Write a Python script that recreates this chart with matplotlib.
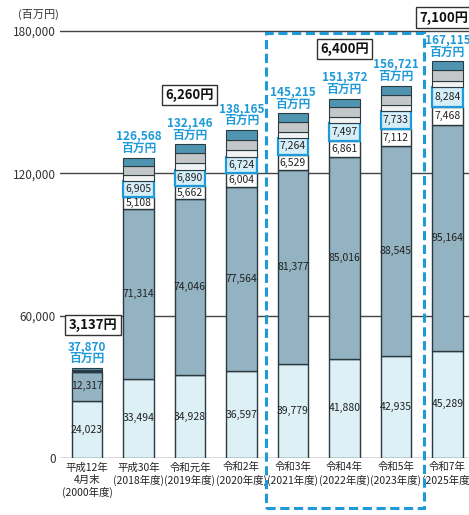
import matplotlib
matplotlib.use('Agg')
import matplotlib.pyplot as plt
from matplotlib.patches import Rectangle

plt.rcParams['font.family'] = ['Noto Sans CJK JP', 'DejaVu Sans']

# 年度ラベル
years = ['平成12年\n4月末\n(2000年度)', '平成30年\n(2018年度)', '令和元年\n(2019年度)',
         '令和2年\n(2020年度)', '令和3年\n(2021年度)', '令和4年\n(2022年度)',
         '令和5年\n(2023年度)', '令和7年\n(2025年度)']

# 各区分の金額（百万円）、下から順に
seg1 = [24023, 33494, 34928, 36597, 39779, 41880, 42935, 45289]
seg2 = [12317, 71314, 74046, 77564, 81377, 85016, 88545, 95164]
seg3 = [0, 5108, 5662, 6004, 6529, 6861, 7112, 7468]
seg4 = [0, 6905, 6890, 6724, 7264, 7497, 7733, 8284]
seg5 = [300, 2400, 2600, 2800, 2500, 2500, 2600, 2700]   # 読み取り推定
seg6 = [500, 3900, 4200, 4500, 4100, 4000, 4100, 4400]   # 読み取り推定
seg7 = [730, 3447, 3820, 3976, 3666, 3618, 3696, 3810]   # 読み取り推定
totals = [37870, 126568, 132146, 138165, 145215, 151372, 156721, 167115]

# 保険料（月額）
premiums = ['3,137円', '6,260円', '6,400円', '7,100円']
premium_pos = [(0.12, 56000), (2.0, 153000), (5.0, 172400), (6.93, 185500)]

fig = plt.figure(figsize=(4.69, 5.15), dpi=100)
ax = fig.add_axes([60 / 469, 57 / 515, 1 - 60 / 469, 1 - 57 / 515])

x = list(range(len(years)))
w = 0.59
edge = '#2b3a40'
blue = '#1e9ad8'

for yv in [0, 60000, 120000, 180000]:
    ax.axhline(yv, color='#444444', lw=1.0, zorder=0)

segs = [seg1, seg2, seg3, seg4, seg5, seg6, seg7]
fcols = ['#dcf0f6', '#93b3c2', '#ffffff', '#d6eef8', '#f2f4f4', '#c3c7c8', '#4f95b2']
ecols = [edge, edge, edge, blue, edge, edge, edge]
lws = [1.0, 1.0, 1.0, 1.6, 0.8, 0.8, 0.8]
bottom = [0] * len(x)
conts = []
for s, fc, ec, lw in zip(segs, fcols, ecols, lws):
    c = ax.bar(x, s, w, bottom=bottom, color=fc, edgecolor=ec, linewidth=lw, zorder=2)
    conts.append(c)
    bottom = [b + v for b, v in zip(bottom, s)]

# 区分の数値ラベル
for i, c in enumerate(conts[:4]):
    labels = [f'{v:,}' if v > 0 else '' for v in segs[i]]
    ax.bar_label(c, labels=labels, label_type='center', fontsize=7.5, color='#222222', zorder=5)

# 合計
for xi, t in zip(x, totals):
    ax.annotate(f'{t:,}\n百万円', (xi, t), xytext=(0, 2), textcoords='offset points',
                ha='center', va='bottom', fontsize=8.5, fontweight='bold', color=blue,
                linespacing=0.95, zorder=6)

# 保険料の枠
for p, (px, py) in zip(premiums, premium_pos):
    ax.text(px, py, p, ha='center', va='center', fontsize=9.5, fontweight='bold', color='#111111',
            bbox=dict(boxstyle='square,pad=0.25', facecolor='white', edgecolor='#333333', lw=1.0),
            zorder=7, clip_on=False)

# 点線の枠（令和3年～令和5年）
ax.add_patch(Rectangle((3.476, -21000), 3.068, 200200, fill=False, edgecolor=blue,
                       linestyle=(0, (3, 1.5)), lw=2.2, zorder=8, clip_on=False))

ax.text(-0.95, 187000, '(百万円)', ha='center', va='center', fontsize=8, color='#333333',
        clip_on=False)

ax.set_xlim(-0.524, 7.42)
ax.set_ylim(0, 193000)
ax.set_yticks([0, 60000, 120000, 180000])
ax.set_yticklabels(['0', '60,000', '120,000', '180,000'], fontsize=8.5, color='#333333')
ax.set_xticks(x)
ax.set_xticklabels(years, fontsize=7.5, color='#222222', linespacing=1.25)
ax.tick_params(axis='both', length=0, pad=3)
for sp in ax.spines.values():
    sp.set_visible(False)
ax.patch.set_alpha(0)

fig.savefig('out.png', dpi=100)
